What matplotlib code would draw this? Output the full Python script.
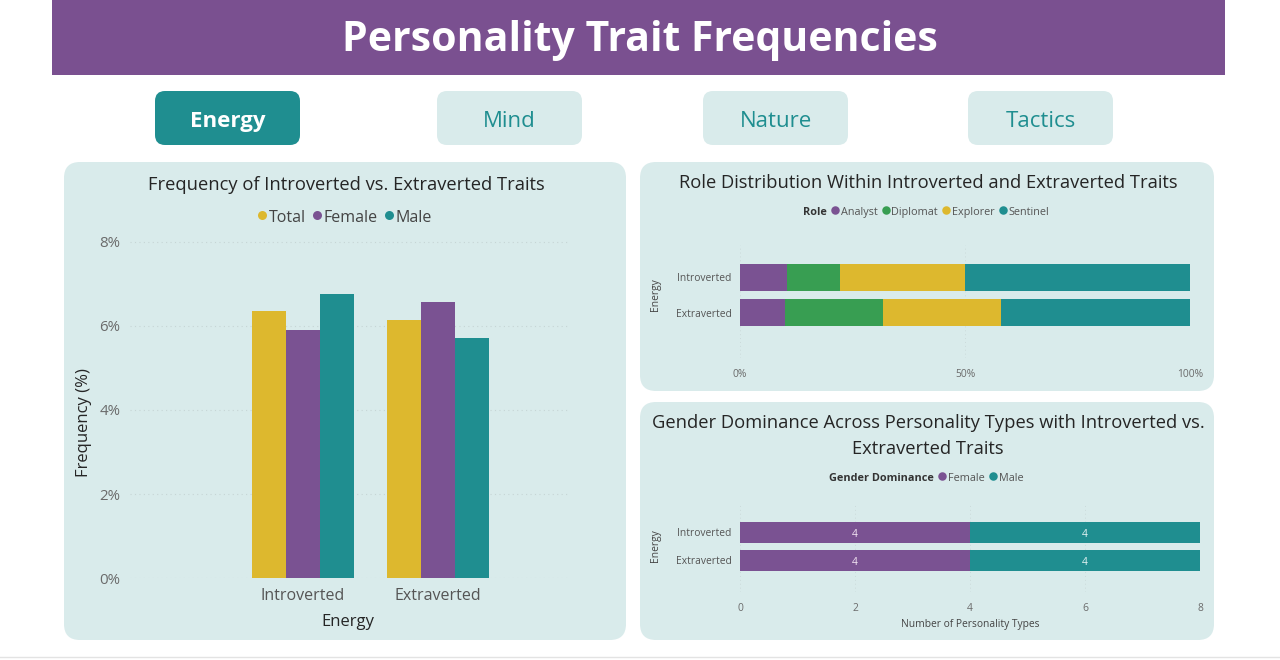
import matplotlib
matplotlib.use("Agg")
import matplotlib.pyplot as plt
from matplotlib.patches import FancyBboxPatch, Rectangle
from matplotlib.ticker import FuncFormatter
import numpy as np

plt.rcParams['font.family'] = ['Open Sans', 'DejaVu Sans']

# ---------------- data ----------------
title = "Personality Trait Frequencies"
buttons = ["Energy", "Mind", "Nature", "Tactics"]
energy = ["Introverted", "Extraverted"]

freq_series = ["Total", "Female", "Male"]
freq_total = [6.35, 6.14]
freq_female = [5.90, 6.58]
freq_male = [6.75, 5.72]
freq_ticks = [0, 2, 4, 6, 8]

roles = ["Analyst", "Diplomat", "Explorer", "Sentinel"]
role_intro = [10.5, 11.7, 27.9, 49.9]
role_extra = [10.0, 21.8, 26.1, 42.1]
role_ticks = [0, 50, 100]

genders = ["Female", "Male"]
gender_female = [4, 4]
gender_male = [4, 4]
gender_ticks = [0, 2, 4, 6, 8]

# ---------------- colours ----------------
PURPLE = "#7a5292"
TEAL = "#1f8e90"
YELLOW = "#ddb82e"
GREEN = "#389e52"
PANEL = "#d9ebeb"
BANNER = "#7a5090"
DARK = "#252525"
GREY = "#6a6a6a"

W, H = 1280, 660
fig = plt.figure(figsize=(W / 100, H / 100), dpi=100)
fig.patch.set_facecolor("white")
bg = fig.add_axes([0, 0, 1, 1])
bg.set_xlim(0, W)
bg.set_ylim(H, 0)
bg.axis("off")

DY = 2.5  # vertical optical correction for centred text


def T(x, y, s, **kw):
    kw.setdefault("ha", "center")
    kw.setdefault("va", "center")
    return bg.text(x, y + DY, s, **kw)


def rbox(x0, y0, x1, y1, r, fc, z=0):
    p = FancyBboxPatch((x0, y0), x1 - x0, y1 - y0,
                       boxstyle=f"round,pad=0,rounding_size={r}",
                       fc=fc, ec="none", zorder=z)
    bg.add_patch(p)


def ax_at(x0, y0, x1, y1):
    ax = fig.add_axes([x0 / W, 1 - y1 / H, (x1 - x0) / W, (y1 - y0) / H])
    ax.set_facecolor("none")
    for s in ax.spines.values():
        s.set_visible(False)
    ax.tick_params(length=0)
    return ax


# banner
bg.add_patch(Rectangle((52, 0), 1225 - 52, 75, fc=BANNER, ec="none"))
T(640, 38, title, color="white", fontsize=29.5, fontweight="bold")

# buttons
btn_x = [155, 437, 703, 968]
for i, (b, x) in enumerate(zip(buttons, btn_x)):
    active = i == 0
    rbox(x, 91, x + 145, 145, 10, TEAL if active else PANEL)
    T(x + 72.5, 119, b, color="white" if active else TEAL, fontsize=16,
      fontweight="bold" if active else "normal")

# panels
rbox(64, 162, 626, 640, 16, PANEL)
rbox(640, 162, 1214, 391, 16, PANEL)
rbox(640, 402, 1214, 640, 16, PANEL)

# bottom faint line
bg.plot([0, W], [657, 657], color="#e3e3e3", lw=1)

renderer = fig.canvas.get_renderer()


def inline_legend(cx, cy, head, labels, colors, fs, msize, gap_m, gap_item, tcolor):
    items = []
    if head:
        t = T(0, cy, head, fontsize=fs, fontweight="bold", color="#333333", ha="left")
        items.append(("t", t, t.get_window_extent(renderer).width))
    for lab, col in zip(labels, colors):
        items.append(("m", col, msize))
        t = T(0, cy, lab, fontsize=fs, color=tcolor, ha="left")
        items.append(("t", t, t.get_window_extent(renderer).width))
    total = 0
    for k, it in enumerate(items):
        total += it[2]
        if k < len(items) - 1:
            total += gap_m if it[0] == "m" else gap_item
    x = cx - total / 2
    for k, it in enumerate(items):
        if it[0] == "t":
            it[1].set_x(x)
        else:
            bg.scatter([x + msize / 2], [cy], s=(msize * 0.72) ** 2,
                       color=it[1], marker="o", linewidths=0, zorder=5)
        x += it[2]
        if k < len(items) - 1:
            x += gap_m if it[0] == "m" else gap_item


# ---------------- left chart ----------------
T(346, 182, "Frequency of Introverted vs. Extraverted Traits", color=DARK, fontsize=13.2)
inline_legend(345, 215, None, freq_series, [YELLOW, PURPLE, TEAL], 11.5, 9, 2, 7, "#444444")

ax = ax_at(130, 235, 570, 578)
x = np.arange(len(energy))
bw = 0.25
for off, vals, col in zip([-bw, 0, bw], [freq_total, freq_female, freq_male],
                          [YELLOW, PURPLE, TEAL]):
    ax.bar(x + off, vals, width=bw, color=col, zorder=3)
ax.set_xlim(-1.281, 1.978)
ax.set_ylim(0, 8 * (578 - 235) / (578 - 242))
ax.set_yticks(freq_ticks)
ax.yaxis.set_major_formatter(FuncFormatter(lambda v, p: f"{v:.0f}%"))
ax.set_xticks(x)
ax.set_xticklabels(energy)
ax.tick_params(axis="y", labelsize=10.8, labelcolor=GREY, pad=7)
ax.tick_params(axis="x", labelsize=11.5, labelcolor="#555555", pad=7)
ax.grid(axis="y", linestyle=(0, (1, 3)), color="#c6d5d5", lw=0.8, zorder=0)
T(348, 619, "Energy", color=DARK, fontsize=12)
bg.text(84, 423, "Frequency (%)", ha="center", va="center", rotation=90,
        color=DARK, fontsize=12)

# ---------------- right top chart ----------------
T(928, 181, "Role Distribution Within Introverted and Extraverted Traits",
  color=DARK, fontsize=13.2)
inline_legend(926, 210, "Role", roles, [PURPLE, GREEN, YELLOW, TEAL], 7.8, 8.5, 1.5, 4, "#555555")

ax2 = ax_at(740, 245, 1190, 358)
role_cols = [PURPLE, GREEN, YELLOW, TEAL]
role_data = np.array([role_intro, role_extra])
left = np.zeros(len(energy))
for j, col in enumerate(role_cols):
    ax2.barh(np.arange(len(energy)), role_data[:, j], left=left, height=0.76,
             color=col, zorder=3)
    left += role_data[:, j]
ax2.set_xlim(0, 100)
ax2.set_ylim(2.268, -0.915)
ax2.set_xticks(role_ticks)
ax2.xaxis.set_major_formatter(FuncFormatter(lambda v, p: f"{v:.0f}%"))
ax2.set_yticks(np.arange(len(energy)))
ax2.set_yticklabels(energy)
ax2.tick_params(axis="x", labelsize=7.4, labelcolor=GREY, pad=8)
ax2.tick_params(axis="y", labelsize=7.4, labelcolor="#555555", pad=6)
ax2.grid(axis="x", linestyle=(0, (1, 3)), color="#cbdada", lw=0.7, zorder=0)
bg.text(656, 295, "Energy", ha="center", va="center", rotation=90, color="#444444",
        fontsize=7.4)

# ---------------- right bottom chart ----------------
T(928, 421, "Gender Dominance Across Personality Types with Introverted vs.",
  color=DARK, fontsize=13.2)
T(928, 446, "Extraverted Traits", color=DARK, fontsize=13.2)
inline_legend(926, 476, "Gender Dominance", genders, [PURPLE, TEAL], 7.8, 8.5, 1.5, 4, "#555555")

ax3 = ax_at(740, 505, 1200, 592)
yy = np.arange(len(energy))
ax3.barh(yy, gender_female, height=0.76, color=PURPLE, zorder=3)
ax3.barh(yy, gender_male, left=gender_female, height=0.76, color=TEAL, zorder=3)
for i in range(len(energy)):
    ax3.text(gender_female[i] / 2, yy[i] + 0.06, f"{gender_female[i]}", ha="center",
             va="center", color="#f4e6f4", fontsize=7.4, zorder=4)
    ax3.text(gender_female[i] + gender_male[i] / 2, yy[i] + 0.06, f"{gender_male[i]}",
             ha="center", va="center", color="#e6f4f4", fontsize=7.4, zorder=4)
ax3.set_xlim(0, 8)
ax3.set_ylim(2.125, -0.982)
ax3.set_xticks(gender_ticks)
ax3.set_yticks(yy)
ax3.set_yticklabels(energy)
ax3.tick_params(axis="x", labelsize=7.4, labelcolor=GREY, pad=8)
ax3.tick_params(axis="y", labelsize=7.4, labelcolor="#555555", pad=6)
ax3.grid(axis="x", linestyle=(0, (1, 3)), color="#cbdada", lw=0.7, zorder=0)
T(970, 622, "Number of Personality Types", color="#444444", fontsize=7.4)
bg.text(656, 546, "Energy", ha="center", va="center", rotation=90, color="#444444",
        fontsize=7.4)

fig.savefig("out.png", dpi=100, facecolor="white")
